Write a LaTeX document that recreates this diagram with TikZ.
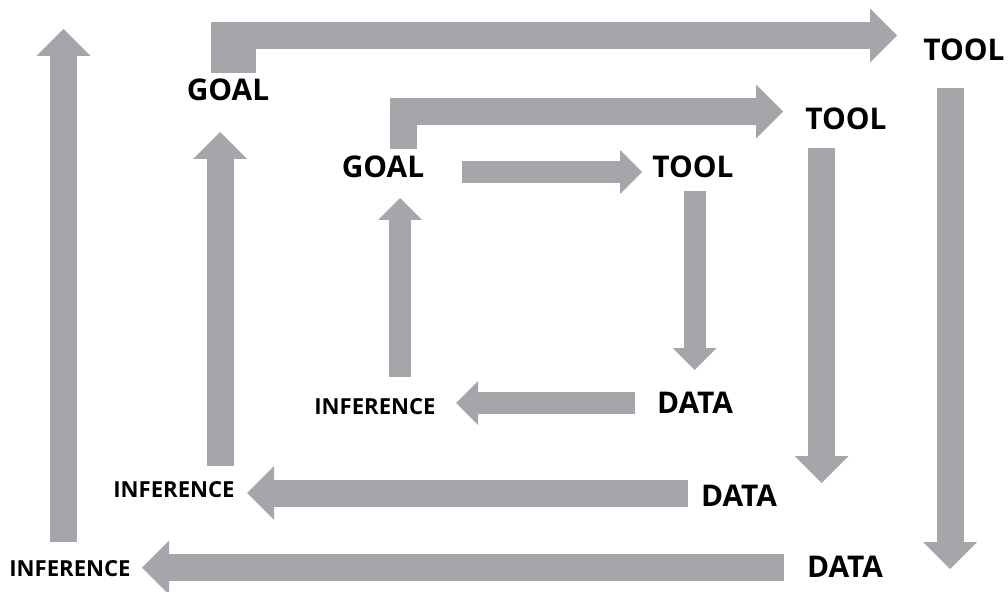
\documentclass[tikz,border=0pt]{standalone}
\usepackage{fontspec}
\setmainfont{Open Sans}
\usetikzlibrary{arrows.meta}
\definecolor{arrowgray}{RGB}{165,166,170}

\begin{document}
\begin{tikzpicture}[line join=miter,x=1bp,y=-1bp,
  bigarr/.style={line width=27bp,draw=arrowgray,-{Triangle[width=54bp,length=27bp,line width=0pt]}},
  smallarr/.style={line width=22bp,draw=arrowgray,-{Triangle[width=44bp,length=22bp,line width=0pt]}},
  lbl/.style={font=\bfseries\fontsize{30}{30}\selectfont,inner sep=0pt},
  inflbl/.style={font=\bfseries\fontsize{22.2}{22.2}\selectfont,inner sep=0pt}]
\useasboundingbox (0,0) rectangle (1008,592);
% labels
\node[lbl] (goalout) at (228,90) {GOAL};
\node[lbl] (goalmid) at (383,167) {GOAL};
\node[lbl] (toolout) at (964,50) {TOOL};
\node[lbl] (toolmid) at (846,119) {TOOL};
\node[lbl] (toolin) at (693,167) {TOOL};
\node[lbl] (dataout) at (845,567) {DATA};
\node[lbl] (datamid) at (739,496) {DATA};
\node[lbl] (datain) at (695,403) {DATA};
\node[inflbl] (infout) at (70,569) {INFERENCE};
\node[inflbl] (infmid) at (174,490) {INFERENCE};
\node[inflbl] (infin) at (375,407) {INFERENCE};
% outer loop
\fill[arrowgray] (211,22) rectangle (256,73);
\draw[bigarr] (211,35.5) -- (897,35.5);
\draw[bigarr] (950,88) -- (950,569);
\draw[bigarr] (784,567.5) -- (142,567.5);
\draw[bigarr] (63.5,542) -- (63.5,29);
% middle loop
\draw[bigarr] (403,149) -- (403,111.5) -- (783,111.5);
\draw[bigarr] (821.5,148) -- (821.5,483);
\draw[bigarr] (688,493) -- (247,493);
\draw[bigarr] (220,466) -- (220,132);
% inner loop
\draw[smallarr] (462,172) -- (642,172);
\draw[smallarr] (694.5,191) -- (694.5,370);
\draw[smallarr] (635,403) -- (456,403);
\draw[smallarr] (400,377) -- (400,198);
\end{tikzpicture}
\end{document}
